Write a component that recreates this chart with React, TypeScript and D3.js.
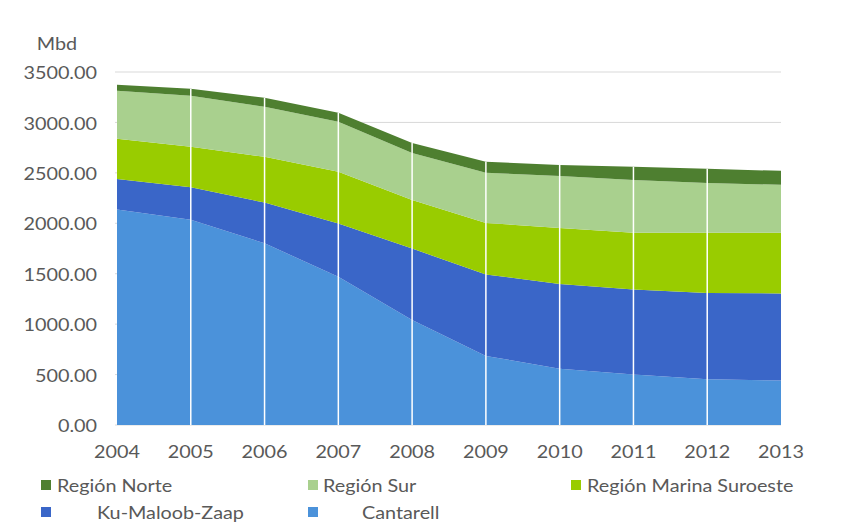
import React from "react";
import * as d3 from "d3";

const years = [2004, 2005, 2006, 2007, 2008, 2009, 2010, 2011, 2012, 2013];
const cantarell = [2136, 2035, 1801, 1471, 1040, 685, 558, 501, 454, 440];
const kuMaloobZaap = [304, 322, 404, 527, 709, 808, 839, 842, 855, 864];
const marinaSuroeste = [397, 401, 454, 512, 483, 511, 557, 562, 596, 601];
const regionSur = [476, 506, 496, 496, 466, 496, 516, 525, 495, 476];
const regionNorte = [60, 69, 89, 89, 99, 109, 109, 130, 140, 139];
const yTicks = [0, 500, 1000, 1500, 2000, 2500, 3000, 3500];

const seriesNames = ["Cantarell", "Ku-Maloob-Zaap", "Región Marina Suroeste", "Región Sur", "Región Norte"];
const seriesValues = [cantarell, kuMaloobZaap, marinaSuroeste, regionSur, regionNorte];
const colors: Record<string, string> = {
  "Cantarell": "#4b92da",
  "Ku-Maloob-Zaap": "#3a66c8",
  "Región Marina Suroeste": "#99cc00",
  "Región Sur": "#a9d08e",
  "Región Norte": "#4e7f30",
};

const FONT = "Lato, 'Open Sans', sans-serif";
const TXT = "#595959";
const SX = 1.1;

function T(props: { x: number; y: number; anchor?: string; children: any }) {
  return (
    <text
      transform={`translate(${props.x},${props.y}) scale(${SX},1)`}
      textAnchor={props.anchor || "start"}
      dominantBaseline="central"
    >
      {props.children}
    </text>
  );
}

export default function App() {
  const W = 868, H = 522;
  const x = d3.scaleLinear().domain([2004, 2013]).range([117, 781]);
  const y = d3.scaleLinear().domain([0, 3500]).range([425, 72]);

  const rows = years.map((yr, i) => {
    const r: any = { year: yr };
    seriesNames.forEach((n, k) => (r[n] = seriesValues[k][i]));
    return r;
  });
  const stack = d3.stack<any>().keys(seriesNames);
  const layers = stack(rows);
  const area = d3
    .area<any>()
    .x((d) => x(d.data.year))
    .y0((d) => y(d[0]))
    .y1((d) => y(d[1]))
    .curve(d3.curveLinear);

  const top = layers[layers.length - 1];

  const legend = [
    { name: "Región Norte", sx: 41, sy: 480, tx: 57, ty: 485 },
    { name: "Región Sur", sx: 308, sy: 480, tx: 323, ty: 485 },
    { name: "Región Marina Suroeste", sx: 571, sy: 480, tx: 587, ty: 485 },
    { name: "Ku-Maloob-Zaap", sx: 41, sy: 507, tx: 97, ty: 512 },
    { name: "Cantarell", sx: 308, sy: 507, tx: 362, ty: 512 },
  ];

  return (
    <svg width={W} height={H} style={{ display: "block", position: "absolute", left: 0, top: 0 }}>
      <rect width={W} height={H} fill="#ffffff" />
      {yTicks.map((t) => (
        <line key={t} x1={115} x2={781} y1={y(t)} y2={y(t)} stroke="#d9d9d9" strokeWidth={1} />
      ))}
      {layers.map((l) => (
        <path key={l.key} d={area(l) || ""} fill={colors[l.key]} />
      ))}
      {years.slice(1, -1).map((yr, i) => (
        <line
          key={yr}
          x1={x(yr)}
          x2={x(yr)}
          y1={y(0)}
          y2={y(top[i + 1][1])}
          stroke="#ffffff"
          strokeWidth={1.5}
        />
      ))}
      <g fontFamily={FONT} fontSize={18} fill={TXT}>
        <T x={57} y={43} anchor="middle">Mbd</T>
        {yTicks.map((t) => (
          <T key={t} x={97} y={y(t)} anchor="end">
            {t.toFixed(2)}
          </T>
        ))}
        {years.map((yr) => (
          <T key={yr} x={x(yr)} y={451} anchor="middle">
            {yr}
          </T>
        ))}
        {legend.map((lg) => (
          <g key={lg.name}>
            <rect x={lg.sx} y={lg.sy} width={10} height={10} fill={colors[lg.name]} />
            <T x={lg.tx} y={lg.ty}>{lg.name}</T>
          </g>
        ))}
      </g>
    </svg>
  );
}
